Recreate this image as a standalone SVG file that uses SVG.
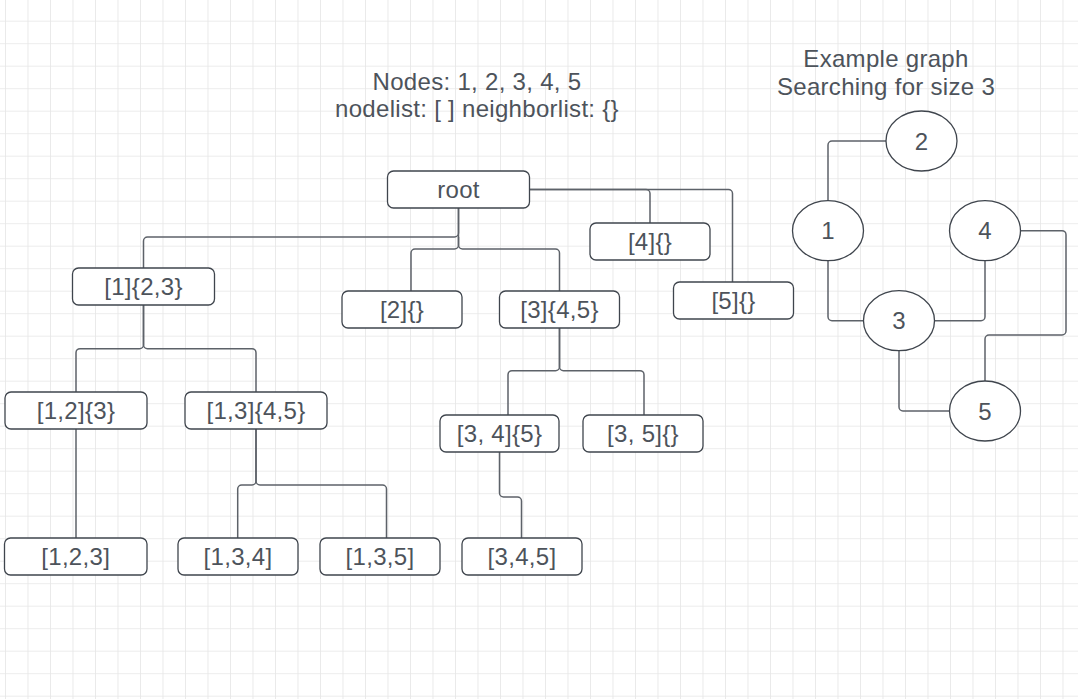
<svg xmlns="http://www.w3.org/2000/svg" width="1078" height="699" viewBox="0 0 1078 699">
<style>
.box{fill:#ffffff;stroke:#3f454d;stroke-width:1.3}
.ell{fill:#ffffff;stroke:#3f454d;stroke-width:1.3}
.t{font-family:"Liberation Sans",Arial,sans-serif;font-size:24px;fill:#4d535b;text-anchor:middle;letter-spacing:0.3px}
.c{fill:none;stroke:#5d6269;stroke-width:1.5;stroke-linejoin:round}
</style>
<defs>
<pattern id="grid" x="5" y="-1.8" width="22.5" height="22.5" patternUnits="userSpaceOnUse">
<path d="M0 0V22.5M0 0H22.5" fill="none" stroke="#e6e6e6" stroke-width="1.6"/>
</pattern>
</defs>
<rect width="1078" height="699" fill="#ffffff"/>
<rect width="1078" height="699" fill="url(#grid)"/>

<g id="titles">
<text class="t" x="477" y="90">Nodes: 1, 2, 3, 4, 5</text>
<text class="t" x="477" y="117">nodelist: [ ] neighborlist: {}</text>
<text class="t" x="886" y="67">Example graph</text>
<text class="t" x="886" y="95">Searching for size 3</text>
</g>

<g id="connectors">
<path class="c" d="M458.5 208V233a4 4 0 0 1 -4 4H147.5a4 4 0 0 0 -4 4V268"/>
<path class="c" d="M458.5 208V245a4 4 0 0 0 4 4H555.5a4 4 0 0 1 4 4V291"/>
<path class="c" d="M458.5 237V245a4 4 0 0 1 -4 4H415a4 4 0 0 0 -4 4V291"/>
<path class="c" d="M529.5 189.5H646a4 4 0 0 1 4 4V223"/>
<path class="c" d="M529.5 189.5H728.5a4 4 0 0 1 4 4V282"/>
<path class="c" d="M143.5 305V344.7a4 4 0 0 1 -4 4H80a4 4 0 0 0 -4 4V392"/>
<path class="c" d="M143.5 305V344.7a4 4 0 0 0 4 4H252a4 4 0 0 1 4 4V392"/>
<path class="c" d="M559.5 328V366.7a4 4 0 0 1 -4 4H512a4 4 0 0 0 -4 4V415"/>
<path class="c" d="M559.5 328V366.7a4 4 0 0 0 4 4H640a4 4 0 0 1 4 4V415"/>
<path class="c" d="M76 429V538"/>
<path class="c" d="M256 429V481a4 4 0 0 1 -4 4H241.7a4 4 0 0 0 -4 4V538"/>
<path class="c" d="M256 429V481a4 4 0 0 0 4 4H382.5a4 4 0 0 1 4 4V538"/>
<path class="c" d="M499.5 452V493a4 4 0 0 0 4 4H517.5a4 4 0 0 1 4 4V538"/>
<path class="c" d="M828 200.7V145a4 4 0 0 1 4 -4H886"/>
<path class="c" d="M828 260.7V316.7a4 4 0 0 0 4 4H863"/>
<path class="c" d="M934.7 320.7H981a4 4 0 0 0 4 -4V260.7"/>
<path class="c" d="M1020.7 230.7H1062a4 4 0 0 1 4 4V331a4 4 0 0 1 -4 4H989a4 4 0 0 0 -4 4V381"/>
<path class="c" d="M899 350.7V407a4 4 0 0 0 4 4H949.7"/>
</g>

<g id="root"><rect class="box" x="387.5" y="171" width="142" height="37" rx="6"/><text class="t" x="458.5" y="198">root</text></g>
<g id="n4"><rect class="box" x="590" y="223" width="120" height="37" rx="6"/><text class="t" x="650" y="250">[4]{}</text></g>
<g id="n1"><rect class="box" x="72.5" y="268" width="142" height="37" rx="6"/><text class="t" x="143.5" y="295">[1]{2,3}</text></g>
<g id="n2"><rect class="box" x="342" y="291" width="120" height="37" rx="6"/><text class="t" x="402" y="318">[2]{}</text></g>
<g id="n3"><rect class="box" x="499.5" y="291" width="120" height="37" rx="6"/><text class="t" x="559.5" y="318">[3]{4,5}</text></g>
<g id="n5"><rect class="box" x="673.5" y="282" width="120" height="37" rx="6"/><text class="t" x="733.5" y="309">[5]{}</text></g>
<g id="n12"><rect class="box" x="5" y="392" width="142" height="37" rx="6"/><text class="t" x="76" y="419">[1,2]{3}</text></g>
<g id="n13"><rect class="box" x="185" y="392" width="142" height="37" rx="6"/><text class="t" x="256" y="419">[1,3]{4,5}</text></g>
<g id="n34"><rect class="box" x="440" y="415" width="119" height="37" rx="6"/><text class="t" x="499.5" y="442">[3, 4]{5}</text></g>
<g id="n35"><rect class="box" x="583" y="415" width="120" height="37" rx="6"/><text class="t" x="643" y="442">[3, 5]{}</text></g>
<g id="n123"><rect class="box" x="4.5" y="538" width="142.5" height="37" rx="6"/><text class="t" x="75.7" y="565">[1,2,3]</text></g>
<g id="n134"><rect class="box" x="178" y="538" width="120" height="37" rx="6"/><text class="t" x="238" y="565">[1,3,4]</text></g>
<g id="n135"><rect class="box" x="320" y="538" width="120" height="37" rx="6"/><text class="t" x="380" y="565">[1,3,5]</text></g>
<g id="n345"><rect class="box" x="462" y="538" width="120" height="37" rx="6"/><text class="t" x="522" y="565">[3,4,5]</text></g>

<g id="g2"><ellipse class="ell" cx="921.5" cy="141" rx="35.5" ry="30"/><text class="t" x="921.5" y="149.5">2</text></g>
<g id="g1"><ellipse class="ell" cx="828" cy="230.7" rx="35.5" ry="30"/><text class="t" x="828" y="239.2">1</text></g>
<g id="g4"><ellipse class="ell" cx="985" cy="230.7" rx="35.5" ry="30"/><text class="t" x="985" y="239.2">4</text></g>
<g id="g3"><ellipse class="ell" cx="899" cy="320.7" rx="35.5" ry="30"/><text class="t" x="899" y="329.2">3</text></g>
<g id="g5"><ellipse class="ell" cx="985" cy="411" rx="35.5" ry="30"/><text class="t" x="985" y="419.5">5</text></g>
</svg>
